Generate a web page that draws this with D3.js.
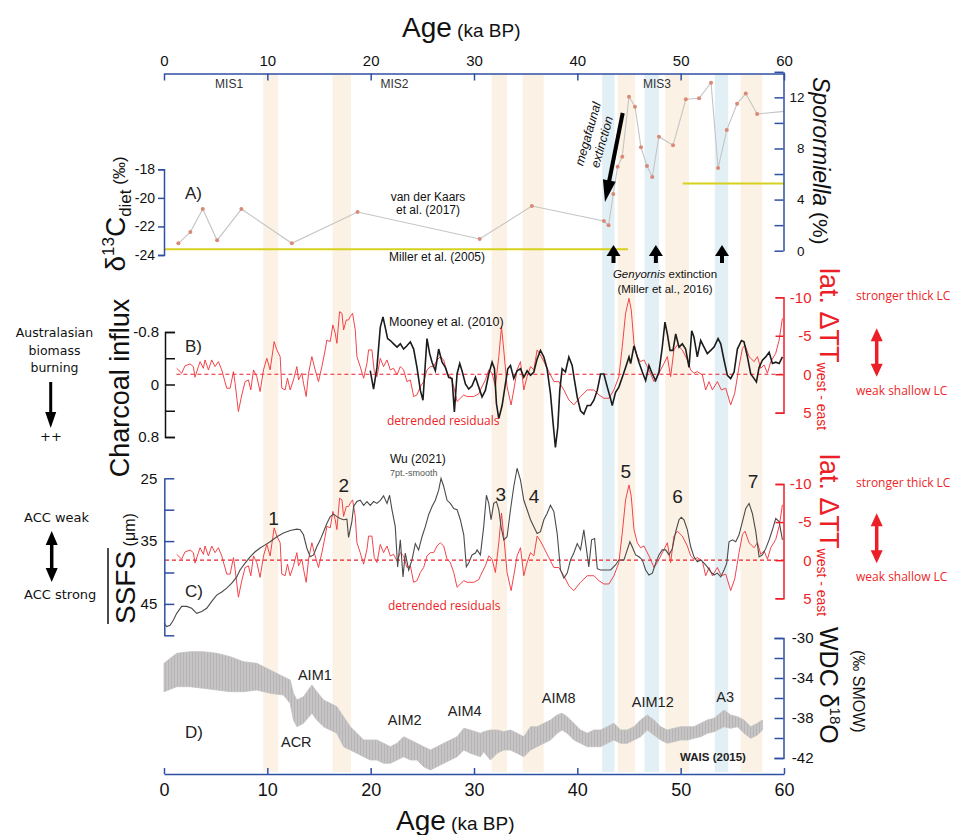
<!DOCTYPE html>
<html><head><meta charset="utf-8">
<script src="https://cdn.jsdelivr.net/npm/d3@7"></script>
<style>
body{margin:0;background:#fff;}
svg{display:block;font-family:"Liberation Sans",Arial,sans-serif;}
</style></head><body>
<svg id="chart" width="958" height="835"></svg>
<script>
// ---------- data (ages in ka BP) ----------
const ageTicks = [0, 10, 20, 30, 40, 50, 60];
const warmBands = [[9.6, 11.05], [16.3, 18.1], [31.7, 33.2], [34.7, 36.75], [43.9, 45.6], [48.5, 50.8], [55.8, 57.9]];
const coolBands = [[42.4, 43.6], [46.5, 47.9], [53.3, 54.6]];
const misLabels = ["MIS1", "MIS2", "MIS3"];
const misAges = [6.3, 22.3, 47.7];

// A) Sporormiella (%) — van der Kaars et al. (2017); last value is where the record leaves the axis
const sporAge = [1.39, 2.55, 3.75, 5.14, 7.49, 12.37, 18.73, 30.55, 35.6, 42.57, 43.02, 43.48, 43.9, 44.35, 45.0, 45.58, 46.16, 46.74, 47.25, 47.9, 49.26, 50.5, 51.78, 52.94, 53.62, 54.46, 55.46, 56.3, 57.4, 60];
const sporValue = [0.58, 1.46, 3.26, 0.81, 3.26, 0.58, 3.03, 0.92, 3.5, 2.32, 1.99, 4.44, 6.57, 7.36, 12.05, 11.27, 8.09, 6.63, 5.77, 8.92, 8.25, 11.85, 11.93, 13.15, 6.47, 9.44, 11.5, 12.3, 10.7, 10.9];
// A) δ13C diet steps — Miller et al. (2005)
const millerStart = [0, 50.2];
const millerEnd = [44.9, 60];
const millerValue = [-23.6, -19.0];

// B/C) lat. ΔTT west-east, detrended residuals
const resAge = [1.23,1.71,2.03,2.52,2.84,3.00,3.33,3.49,3.81,3.97,4.30,4.62,4.94,5.26,5.59,6.07,6.40,6.72,6.88,7.20,7.53,7.85,8.17,8.40,8.66,8.98,9.30,9.63,9.95,10.27,10.66,10.92,11.24,11.40,11.72,11.95,12.21,12.53,12.86,13.02,13.34,13.50,13.76,13.99,14.31,14.63,14.95,15.28,15.60,15.76,16.09,16.34,16.57,16.73,16.99,17.22,17.38,17.64,17.86,18.02,18.25,18.51,18.67,18.99,19.32,19.64,19.80,20.12,20.35,20.61,20.93,21.25,21.58,21.90,22.22,22.55,22.87,23.19,23.51,23.84,24.16,24.48,24.81,25.13,25.45,25.78,26.10,26.42,26.74,27.07,27.39,27.71,28.04,28.36,28.68,29.01,29.33,29.97,30.46,30.62,31.10,31.43,31.75,32.07,32.40,32.66,32.88,33.20,33.59,33.85,34.17,34.50,34.82,35.14,35.47,35.79,36.11,36.43,36.76,37.24,37.73,38.21,38.70,39.18,39.66,40.31,40.96,41.60,42.09,42.57,43.06,43.54,44.02,44.35,44.67,45.00,45.22,45.48,45.80,46.12,46.45,46.93,47.42,47.74,48.06,48.39,48.71,49.03,49.35,49.68,50.16,50.65,50.97,51.29,51.61,52.10,52.42,52.75,53.07,53.55,53.94,54.36,54.84,55.23,55.65,55.98,56.23,56.62,57.11,57.43,57.75,58.07,58.40,58.72,59.20,59.53,59.85];
const resValue = [-0.77,-0.13,-1.08,-1.34,-0.99,0.39,-0.99,-1.64,-0.77,-1.86,-0.56,-1.86,-0.99,-1.64,-0.56,1.82,1.82,-0.34,1.17,4.85,2.69,0.96,0.74,2.04,-0.56,0.31,2.25,-0.56,-2.07,-0.56,-4.24,-3.16,-2.29,1.82,2.04,0.52,2.04,0.74,-0.99,0.74,-0.13,1.17,2.90,-0.13,-2.29,-0.56,0.96,-0.99,-3.16,-4.45,-4.24,-6.40,-5.32,-4.02,-8.13,-7.92,-5.75,-7.05,-7.05,-7.48,-7.92,-5.75,-2.29,-0.99,0.52,-1.42,-3.16,-3.16,-0.34,0.31,-2.07,-0.99,-1.86,-0.56,-0.77,0.09,-0.99,-0.56,0.96,0.74,2.90,2.69,1.61,0.96,-0.56,-0.99,-0.99,-1.86,-2.29,-1.86,-0.13,0.31,1.61,3.55,3.12,2.69,2.90,2.90,2.56,2.04,0.74,-0.56,-0.13,1.61,-2.29,-6.18,-3.16,1.61,3.99,2.04,-0.56,-1.64,2.04,0.31,-0.99,-0.56,-3.16,-2.50,-1.64,-0.34,0.96,0.96,2.04,3.34,3.99,2.90,2.04,2.04,2.69,3.12,3.12,2.04,0.31,-3.59,-7.92,-9.87,-8.35,-4.02,-2.29,-1.64,-1.86,-0.56,0.96,0.31,-0.56,-1.42,-2.29,0.31,-3.16,-3.80,-3.16,-1.86,-0.56,-0.13,-0.34,0.09,2.04,0.96,2.04,0.96,2.04,1.82,3.99,2.47,-0.99,-3.37,-3.80,-2.29,-1.64,-2.29,-0.77,-1.21,-0.13,-1.64,-2.72,-4.45,-7.27];

// B) Charcoal influx — Mooney et al. (2010)
const charAge = [19.96,20.28,20.61,20.93,21.19,21.41,21.64,21.90,22.22,22.55,22.87,23.19,23.51,23.84,24.16,24.48,24.81,25.06,25.29,25.45,25.71,25.94,26.26,26.58,26.91,27.23,27.55,27.88,28.10,28.36,28.62,28.84,29.17,29.49,29.81,30.14,30.46,30.78,31.10,31.43,31.75,31.98,32.17,32.40,32.72,33.04,33.27,33.53,33.85,34.17,34.50,34.82,35.14,35.47,35.79,36.11,36.43,36.76,37.07,37.40,37.66,37.88,38.11,38.30,38.53,38.85,39.18,39.50,39.73,39.99,40.31,40.63,40.96,41.28,41.60,41.93,42.25,42.57,42.90,43.22,43.38,43.70,44.02,44.35,44.67,45.00,45.16,45.48,45.71,45.96,46.29,46.61,46.93,47.26,47.58,47.90,48.22,48.48,48.71,48.97,49.26,49.52,49.84,50.16,50.48,50.81,51.07,51.29,51.61,51.94,52.26,52.58,52.91,53.23,53.62,53.88,54.20,54.52,54.84,55.17,55.49,55.88,56.13,56.46,56.78,57.11,57.33,57.59,57.91,58.23,58.56,58.88,59.20,59.53,59.85];
const charValue = [-0.21,0.07,-0.26,-0.87,-1.03,-0.87,-0.70,-0.67,-0.62,-0.57,-0.62,-0.54,-0.59,-0.65,-0.54,-0.26,0.09,0.24,-0.32,-0.70,-0.47,-0.34,-0.21,-0.54,-0.34,-0.26,-0.11,-0.09,0.42,-0.16,-0.32,-0.21,-0.01,0.07,0.02,-0.11,0.04,0.19,0.09,-0.16,-0.34,-0.24,0.29,0.52,0.32,-0.01,-0.24,-0.29,-0.09,-0.21,-0.24,-0.11,-0.21,-0.14,-0.19,-0.39,-0.52,-0.42,-0.24,0.14,0.60,0.96,0.65,0.09,-0.24,-0.19,-0.42,-0.29,-0.06,0.19,0.40,0.45,0.32,0.32,0.24,0.09,-0.16,-0.16,0.04,0.22,0.32,0.12,0.04,-0.11,-0.26,-0.42,-0.32,-0.59,-0.47,-0.34,-0.19,-0.06,-0.29,-0.16,-0.06,-0.19,-0.57,-0.95,-0.77,-0.52,-0.52,-0.77,-0.57,-0.62,-0.54,-0.26,-0.82,-0.72,-0.42,-0.67,-0.57,-0.47,-0.52,-0.57,-0.70,-0.62,-0.37,-0.14,-0.09,-0.19,-0.54,-0.67,-0.65,-0.42,-0.16,-0.09,-0.04,-0.26,-0.37,-0.42,-0.49,-0.32,-0.34,-0.32,-0.42];

// C) SSFS (μm) — Wu (2021), 7-pt smooth
const ssfsAge = [0,0.26,0.58,0.9,1.23,1.71,2.2,2.68,3.17,3.65,4.13,4.62,5.10,5.59,6.07,6.56,7.04,7.36,7.85,8.33,8.82,9.30,9.79,10.27,10.92,11.56,12.21,12.86,13.18,13.50,13.82,14.15,14.47,14.79,15.12,15.44,15.76,16.09,16.41,16.73,17.05,17.38,17.70,17.86,18.18,18.35,18.67,18.99,19.32,19.64,19.96,20.28,20.61,20.93,21.25,21.58,21.83,22.06,22.38,22.61,22.87,23.13,23.35,23.68,24.00,24.32,24.64,24.97,25.29,25.61,25.94,26.26,26.58,26.81,27.07,27.39,27.71,28.04,28.36,28.68,29.01,29.26,29.49,29.81,30.14,30.30,30.62,30.94,31.20,31.43,31.65,31.91,32.17,32.40,32.62,32.88,33.20,33.53,33.85,34.17,34.50,34.82,35.14,35.47,35.79,36.11,36.43,36.76,37.07,37.40,37.73,38.05,38.37,38.70,39.02,39.34,39.66,39.99,40.31,40.63,40.89,41.11,41.38,41.67,41.93,42.25,42.73,43.22,43.70,44.02,44.51,44.83,45.09,45.31,45.64,45.96,46.29,46.61,46.93,47.26,47.58,47.90,48.22,48.55,48.87,49.19,49.52,49.84,50.06,50.32,50.65,50.97,51.29,51.61,51.94,52.26,52.58,52.91,53.23,53.55,53.88,54.20,54.46,54.68,55.01,55.33,55.65,55.98,56.30,56.62,56.94,57.27,57.59,57.91,58.23,58.56,58.88,59.20,59.53,59.85];
const ssfsValue = [48.1,48.6,48.4,47.6,46.5,45.4,45.4,45.7,46.5,46.2,45.7,44.6,43.6,43.1,42.5,41.7,40.7,39.6,38.5,37.5,36.7,36.1,35.6,35.1,34.3,33.7,33.3,33.1,33.2,34.0,36.1,37.5,37.2,35.9,34.8,33.5,32.2,31.1,30.7,31.1,31.4,31.6,31.5,34.4,31.9,29.5,28.7,28.5,29.3,28.7,29.3,28.7,29.0,28.5,27.8,29.0,27.7,30.0,32.7,39.1,34.8,40.7,36.9,39.6,38.0,35.4,36.4,34.3,32.7,30.8,29.5,28.5,26.9,25.0,26.3,28.5,29.0,29.8,30.0,31.6,34.0,39.1,38.5,37.2,36.9,36.4,37.2,32.7,27.7,29.0,31.6,29.0,28.7,30.0,32.7,34.8,34.3,30.0,26.3,23.4,25.3,28.5,30.0,31.6,32.7,33.8,33.5,31.6,30.6,29.3,30.3,33.8,39.6,40.9,40.1,38.0,36.9,35.4,36.4,33.2,36.4,39.1,34.8,34.6,39.4,39.6,39.6,39.6,38.8,38.0,38.0,36.4,35.1,35.9,37.2,37.5,38.0,39.6,40.4,40.1,38.5,37.2,36.4,36.4,37.2,36.2,33.5,31.6,31.2,31.6,33.2,35.9,37.5,38.3,38.0,38.5,39.1,39.9,40.4,40.1,40.7,39.6,38.5,35.1,34.8,35.1,34.0,31.9,29.8,29.0,30.6,33.5,37.5,37.2,36.2,34.8,33.2,31.4,31.9,34.8];
const eventNames = ["1", "2", "3", "4", "5", "6", "7"];
const eventAges = [10.6, 17.4, 32.6, 35.8, 44.7, 49.7, 57.0];

// D) WDC δ18O (‰ SMOW) — WAIS (2015), upper / lower envelope of the raw record
const wdcAge = [0.00,1.23,2.52,3.81,5.10,6.40,7.69,8.98,10.27,11.56,12.21,12.53,12.86,13.50,14.31,14.79,15.44,16.09,16.73,17.38,18.02,18.67,19.32,19.96,20.61,21.25,21.90,22.55,23.19,23.84,24.48,25.13,25.78,26.42,27.07,27.71,28.36,29.01,29.65,30.62,30.94,31.59,32.24,32.88,33.53,34.17,34.82,35.47,36.11,36.76,37.40,38.05,38.53,39.02,39.66,40.31,40.96,41.60,42.25,42.89,43.54,44.19,44.83,45.48,46.12,46.77,47.42,48.06,48.71,49.35,50.00,50.65,51.29,51.94,52.58,53.23,54.20,54.84,55.49,56.13,56.78,57.43,57.91];
const wdcHigh = [-32.53,-31.53,-31.37,-31.37,-31.53,-31.87,-32.37,-32.53,-33.20,-33.87,-34.20,-35.53,-36.20,-35.87,-34.70,-35.37,-36.20,-36.53,-36.87,-37.87,-38.87,-39.53,-40.20,-40.20,-40.20,-40.53,-40.87,-40.53,-39.87,-40.20,-40.53,-40.87,-41.20,-40.87,-40.53,-40.20,-39.87,-39.03,-39.20,-39.53,-39.37,-39.20,-39.20,-39.37,-39.20,-39.53,-39.87,-38.87,-38.87,-38.53,-38.20,-37.70,-37.53,-37.87,-38.53,-39.20,-39.53,-39.20,-39.20,-38.87,-38.53,-39.20,-39.20,-38.87,-38.20,-37.70,-38.20,-38.87,-39.20,-39.03,-38.87,-38.87,-38.87,-38.53,-38.20,-38.03,-37.20,-37.70,-37.87,-38.20,-38.87,-38.53,-38.20];
const wdcLow = [-35.37,-34.87,-34.87,-35.03,-35.20,-35.37,-35.37,-35.20,-35.53,-35.70,-36.53,-38.20,-38.87,-38.53,-37.53,-38.20,-38.87,-39.20,-39.53,-40.87,-41.20,-41.53,-41.87,-42.20,-42.20,-42.53,-42.53,-42.20,-41.87,-42.20,-42.20,-42.87,-43.20,-42.87,-42.53,-42.20,-41.87,-41.20,-41.53,-41.87,-41.37,-42.20,-41.53,-41.20,-41.20,-41.53,-41.87,-41.20,-40.87,-40.53,-40.20,-39.53,-39.20,-39.53,-40.20,-40.53,-40.87,-40.87,-40.87,-40.53,-40.20,-40.53,-40.53,-40.20,-39.87,-39.20,-39.70,-40.20,-40.53,-40.37,-40.20,-40.20,-40.03,-39.87,-39.53,-39.37,-38.87,-39.03,-38.87,-39.53,-40.03,-39.70,-39.20];
const aimNames = ["AIM1", "ACR", "AIM2", "AIM4", "AIM8", "AIM12", "A3"];
const aimAges = [14.6, 12.8, 23.3, 29.1, 38.2, 47.3, 54.3];

// ---------- colours ----------
const BLUE = "#2f4fa2", RED = "#ec1f28", WARM = "#fbf2e5", COOL = "#e2f0f6";
const FONT = "'Liberation Sans', Arial, sans-serif";
const HUMAN = "'DejaVu Sans', Verdana, sans-serif";
const OPEN = "'Open Sans', sans-serif";

const svg = d3.select("#chart");

// fine vertical hatching gives the dense ice-core record its grainy look
const pat = svg.append("defs").append("pattern").attr("id", "wdcHatch")
  .attr("patternUnits", "userSpaceOnUse").attr("width", 3).attr("height", 6);
pat.append("rect").attr("width", 3).attr("height", 6).attr("fill", "#c6c4c4");
pat.append("rect").attr("width", 1).attr("height", 6).attr("fill", "#b6b4b4");

// ---------- scales ----------
const x = d3.scaleLinear().domain([0, 60]).range([164, 784]);
const yD13C = d3.scaleLinear().domain([-18, -24]).range([169.3, 255]);
const ySpor = d3.scaleLinear().domain([0, 14]).range([250.7, 71.8]);
const yChar = d3.scaleLinear().domain([-0.8, 0.8]).range([332, 437]);
const yTTB = d3.scaleLinear().domain([-10, 5]).range([297.3, 412.7]);
const ySSFS = d3.scaleLinear().domain([25, 50]).range([478.3, 635.3]);
const yTTC = d3.scaleLinear().domain([-10, 5]).range([484, 598.3]);
const yWDC = d3.scaleLinear().domain([-30, -42]).range([638, 758]);

// ---------- climate-event bands ----------
const bands = svg.append("g");
bands.selectAll("rect.warm").data(warmBands).join("rect")
  .attr("x", d => x(d[0])).attr("width", d => x(d[1]) - x(d[0]))
  .attr("y", 74).attr("height", 698).attr("fill", WARM);
bands.selectAll("rect.cool").data(coolBands).join("rect")
  .attr("x", d => x(d[0])).attr("width", d => x(d[1]) - x(d[0]))
  .attr("y", 74).attr("height", 698).attr("fill", COOL);

// ---------- D) WDC δ18O band ----------
const wdc = d3.zip(wdcAge, wdcHigh, wdcLow);
svg.append("path").datum(wdc)
  .attr("d", d3.area().x(d => x(d[0])).y0(d => yWDC(d[2])).y1(d => yWDC(d[1])))
  .attr("fill", "url(#wdcHatch)").attr("stroke", "#c2c0c0").attr("stroke-width", 0.8);

// ---------- A) Miller δ13C steps ----------
svg.append("g").selectAll("line").data(d3.zip(millerStart, millerEnd, millerValue)).join("line")
  .attr("x1", d => x(d[0])).attr("x2", d => x(d[1]))
  .attr("y1", d => yD13C(d[2])).attr("y2", d => yD13C(d[2]))
  .attr("stroke", "#d6d11c").attr("stroke-width", 2);

// ---------- A) Sporormiella ----------
const spor = d3.zip(sporAge, sporValue);
svg.append("path").datum(spor)
  .attr("d", d3.line().x(d => x(d[0])).y(d => ySpor(d[1])))
  .attr("fill", "none").attr("stroke", "#c4c4c4").attr("stroke-width", 1.1);
svg.append("g").selectAll("circle").data(spor.slice(0, -1)).join("circle")
  .attr("cx", d => x(d[0])).attr("cy", d => ySpor(d[1])).attr("r", 2)
  .attr("fill", "#d98a76");

// ---------- B) residuals + charcoal ----------
const res = d3.zip(resAge, resValue);
svg.append("line").attr("x1", x(1.2)).attr("x2", x(60)).attr("y1", yTTB(0)).attr("y2", yTTB(0))
  .attr("stroke", RED).attr("stroke-width", 1.2).attr("stroke-dasharray", "4,3");
svg.append("path").datum(res)
  .attr("d", d3.line().x(d => x(d[0])).y(d => yTTB(d[1])))
  .attr("fill", "none").attr("stroke", "#f03a40").attr("stroke-width", 0.95);
svg.append("path").datum(d3.zip(charAge, charValue))
  .attr("d", d3.line().x(d => x(d[0])).y(d => yChar(d[1])))
  .attr("fill", "none").attr("stroke", "#1c1c1c").attr("stroke-width", 1.6);

// ---------- C) residuals + SSFS ----------
svg.append("line").attr("x1", x(0.1)).attr("x2", x(60)).attr("y1", yTTC(0)).attr("y2", yTTC(0))
  .attr("stroke", RED).attr("stroke-width", 1.2).attr("stroke-dasharray", "4,3");
svg.append("path").datum(res)
  .attr("d", d3.line().x(d => x(d[0])).y(d => yTTC(d[1])))
  .attr("fill", "none").attr("stroke", "#f03a40").attr("stroke-width", 0.95);
svg.append("path").datum(d3.zip(ssfsAge, ssfsValue))
  .attr("d", d3.line().x(d => x(d[0])).y(d => ySSFS(d[1])))
  .attr("fill", "none").attr("stroke", "#4a4a4a").attr("stroke-width", 1.1);

// ---------- axes ----------
const plain = d => String(d);   // hyphen-minus, no trailing decimals
function styleAxis(g, color, size, textColor, width) {
  g.attr("font-family", FONT).attr("font-size", size);
  g.selectAll("path, line").attr("stroke", color).attr("stroke-width", width || 1.5);
  g.selectAll("text").attr("fill", textColor || "#111");
}
const topAxis = svg.append("g").attr("transform", "translate(0,73.5)")
  .call(d3.axisTop(x).tickValues(ageTicks).tickFormat(plain).tickSizeInner(-7).tickSizeOuter(0).tickPadding(8));
styleAxis(topAxis, BLUE, 15);
const botAxis = svg.append("g").attr("transform", "translate(0,774)")
  .call(d3.axisBottom(x).tickValues(ageTicks).tickFormat(plain).tickSizeInner(-6).tickSizeOuter(0).tickPadding(9));
styleAxis(botAxis, BLUE, 18);

const d13Axis = svg.append("g").attr("transform", "translate(164,0)")
  .call(d3.axisLeft(yD13C).tickValues([-18, -20, -22, -24]).tickFormat(plain).tickSize(6).tickPadding(3));
styleAxis(d13Axis, BLUE, 14);

const sporAxis = svg.append("g").attr("transform", "translate(783.5,0)")
  .call(d3.axisRight(ySpor).tickValues([0, 2, 4, 6, 8, 10, 12, 14]).tickSizeInner(-9).tickSizeOuter(0)
    .tickFormat(d => (d % 4 === 0 && d < 14) ? String(d) : ""));
styleAxis(sporAxis, BLUE, 13.5);
sporAxis.selectAll("text").attr("text-anchor", "end").attr("x", 21);

const charAxis = svg.append("g").attr("transform", "translate(165,0)")
  .call(d3.axisLeft(yChar).tickValues([-0.8, -0.4, 0, 0.4, 0.8]).tickSizeInner(-10).tickSizeOuter(-10).tickPadding(6)
    .tickFormat(d => d === 0 ? "0" : (Math.abs(d) === 0.8 ? String(d) : "")));
styleAxis(charAxis, "#111", 15);

function redAxis(scale) {
  const g = svg.append("g").attr("transform", "translate(783.5,0)")
    .call(d3.axisRight(scale).tickValues([-10, -5, 0, 5]).tickFormat(plain).tickSizeInner(-8).tickSizeOuter(-8));
  styleAxis(g, RED, 15, RED);
  g.selectAll("text").attr("text-anchor", "end").attr("x", 28);
}
redAxis(yTTB);
redAxis(yTTC);

const ssfsAxis = svg.append("g").attr("transform", "translate(164.3,0)")
  .call(d3.axisLeft(ySSFS).tickValues([25, 30, 35, 40, 45, 50]).tickSizeInner(-10).tickSizeOuter(0).tickPadding(7)
    .tickFormat(d => [25, 35, 45].includes(d) ? String(d) : ""));
styleAxis(ssfsAxis, BLUE, 15);

const wdcAxis = svg.append("g").attr("transform", "translate(783.5,0)")
  .call(d3.axisRight(yWDC).tickValues([-30, -32, -34, -36, -38, -40, -42]).tickSizeInner(-9).tickSizeOuter(-9)
    .tickFormat(d => [-30, -34, -38, -42].includes(d) ? String(d) : ""));
styleAxis(wdcAxis, BLUE, 15);
wdcAxis.selectAll("text").attr("text-anchor", "end").attr("x", 30);

// ---------- text helpers ----------
function label(g, x0, y0, parts, opts) {
  opts = opts || {};
  const t = g.append("text")
    .attr("transform", `translate(${x0},${y0})` + (opts.rotate ? ` rotate(${opts.rotate})` : ""))
    .attr("text-anchor", opts.anchor || "start")
    .attr("font-family", opts.family || FONT)
    .attr("fill", opts.fill || "#111");
  parts.forEach(p => {
    t.append("tspan").text(p.t).attr("font-size", p.size)
      .attr("dy", p.dy || 0)
      .attr("font-style", p.italic ? "italic" : null)
      .attr("font-weight", p.bold ? "bold" : null)
      .attr("fill", p.fill || null);
  });
  return t;
}
function arrow(g, x1, y1, x2, y2, o) {
  const dx = x2 - x1, dy = y2 - y1, L = Math.hypot(dx, dy);
  const ux = dx / L, uy = dy / L, nx = -uy, ny = ux;
  const hl = o.headLen, hw = o.headW / 2;
  const sx = o.double ? x1 + ux * hl * 0.8 : x1, sy = o.double ? y1 + uy * hl * 0.8 : y1;
  g.append("line").attr("x1", sx).attr("y1", sy)
    .attr("x2", x2 - ux * hl * 0.8).attr("y2", y2 - uy * hl * 0.8)
    .attr("stroke", o.color).attr("stroke-width", o.width);
  const head = (tx, ty, vx, vy) => g.append("path")
    .attr("d", `M${tx},${ty}L${tx - vx * hl + nx * hw},${ty - vy * hl + ny * hw}L${tx - vx * hl - nx * hw},${ty - vy * hl - ny * hw}Z`)
    .attr("fill", o.color);
  head(x2, y2, ux, uy);
  if (o.double) head(x1, y1, -ux, -uy);
}

const txt = svg.append("g");

// titles
label(txt, 402, 37, [{ t: "Age", size: 28 }, { t: " (ka BP)", size: 19 }]);
label(txt, 396, 830, [{ t: "Age", size: 28 }, { t: " (ka BP)", size: 19 }]);

// MIS stages
misLabels.forEach((m, i) => label(txt, x(misAges[i]), 88, [{ t: m, size: 12 }], { anchor: "middle", fill: "#333" }));

// panel letters
[["A)", 199.3], ["B)", 351.5], ["C)", 596.5], ["D)", 738]].forEach(([t, yy]) =>
  label(txt, 185, yy, [{ t, size: 17 }], { fill: "#222" }));

// panel A annotations
label(txt, 428, 201, [{ t: "van der Kaars", size: 12 }], { anchor: "middle" });
label(txt, 428, 214, [{ t: "et al. (2017)", size: 12 }], { anchor: "middle" });
label(txt, 389, 261, [{ t: "Miller et al. (2005)", size: 12 }]);
label(txt, 592, 135, [{ t: "megafaunal", size: 12.5, italic: true }], { anchor: "middle", rotate: -74 });
label(txt, 606, 143, [{ t: "extinction", size: 12.5, italic: true }], { anchor: "middle", rotate: -74 });
arrow(txt, 622.7, 113, 605, 202, { width: 4, headLen: 22, headW: 13, color: "#000" });
[43.5, 47.6, 54.0].forEach(a => arrow(txt, x(a), 263, x(a), 245, { width: 4, headLen: 11, headW: 14, color: "#000" }));
label(txt, 665, 278, [{ t: "Genyornis", size: 11.5, italic: true }, { t: " extinction", size: 11.5 }], { anchor: "middle" });
label(txt, 665, 293, [{ t: "(Miller et al., 2016)", size: 11.5 }], { anchor: "middle" });

// left-hand axis titles
label(txt, 125, 214, [{ t: "δ", size: 28 }, { t: "13", size: 17, dy: -11 }, { t: "C", size: 28, dy: 11 },
  { t: "diet", size: 17, dy: 6 }, { t: " (‰)", size: 17, dy: -6 }], { anchor: "middle", rotate: -90 });
label(txt, 129, 388, [{ t: "Charcoal influx", size: 27 }], { anchor: "middle", rotate: -90 });
label(txt, 135, 624, [{ t: "SSFS", size: 28 }, { t: " (μm)", size: 16 }], { rotate: -90 });
txt.append("line").attr("x1", 108).attr("x2", 108).attr("y1", 548).attr("y2", 624)
  .attr("stroke", "#111").attr("stroke-width", 1.5);

// right-hand axis titles
label(txt, 813, 77, [{ t: "Sporormiella", size: 23, italic: true }, { t: " (%)", size: 21 }], { rotate: 90 });
[268, 454].forEach(y0 => label(txt, 820, y0, [{ t: "lat. ΔTT", size: 27 }, { t: "west - east", size: 14, dy: 3 }],
  { rotate: 90, fill: RED }));
label(txt, 820, 627, [{ t: "WDC δ", size: 25 }, { t: "18", size: 15, dy: -10 }, { t: "O", size: 25, dy: 10 }], { rotate: 90 });
label(txt, 853, 650, [{ t: "(‰ SMOW)", size: 16 }], { rotate: 90 });

// left-hand annotations
label(txt, 54.5, 337, [{ t: "Australasian", size: 12.5 }], { anchor: "middle", family: HUMAN });
label(txt, 54.5, 355, [{ t: "biomass", size: 12.5 }], { anchor: "middle", family: HUMAN });
label(txt, 54.5, 372, [{ t: "burning", size: 12.5 }], { anchor: "middle", family: HUMAN });
arrow(txt, 50.7, 382, 50.7, 428, { width: 3, headLen: 16, headW: 11, color: "#000" });
label(txt, 51, 441, [{ t: "++", size: 13 }], { anchor: "middle", family: HUMAN });
label(txt, 24, 521.5, [{ t: "ACC weak", size: 13 }], { family: HUMAN });
arrow(txt, 51.7, 531, 51.7, 582, { width: 3.5, headLen: 14, headW: 12, color: "#000", double: true });
label(txt, 24, 599, [{ t: "ACC strong", size: 13 }], { family: HUMAN });

// right-hand annotations
[[300, 394.5, 328.3, 376.7], [487, 581, 513.3, 563.3]].forEach(([ys, yw, a1, a2]) => {
  label(txt, 856, ys, [{ t: "stronger thick LC", size: 12 }], { fill: RED, family: OPEN });
  label(txt, 856, yw, [{ t: "weak shallow LC", size: 12 }], { fill: RED, family: OPEN });
  arrow(txt, 876.7, a1, 876.7, a2, { width: 3.5, headLen: 13, headW: 12, color: RED, double: true });
});

// panel B / C annotations
label(txt, 389, 326, [{ t: "Mooney et al. (2010)", size: 12.5 }]);
label(txt, 387, 425, [{ t: "detrended residuals", size: 12 }], { fill: RED, family: OPEN });
label(txt, 390, 463, [{ t: "Wu (2021)", size: 12 }]);
label(txt, 390, 476, [{ t: "7pt.-smooth", size: 9 }], { fill: "#555" });
label(txt, 388, 610, [{ t: "detrended residuals", size: 12 }], { fill: RED, family: OPEN });
const eventY = [525, 492, 501, 503, 478, 503, 488];
eventNames.forEach((n, i) => label(txt, x(eventAges[i]), eventY[i], [{ t: n, size: 19 }], { anchor: "middle", fill: "#222" }));

// panel D annotations
const aimY = [680, 747, 725, 716, 703, 707, 702];
aimNames.forEach((n, i) => label(txt, x(aimAges[i]), aimY[i], [{ t: n, size: 14.5 }], { anchor: "middle", fill: "#222" }));
label(txt, 713, 761, [{ t: "WAIS (2015)", size: 11.5, bold: true }], { anchor: "middle", fill: "#222" });
</script>
</body></html>
